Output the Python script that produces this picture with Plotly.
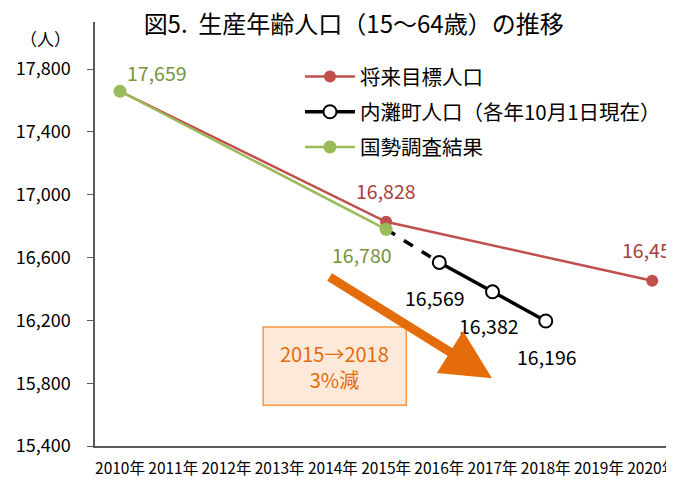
import plotly.graph_objects as go

years = [2010, 2011, 2012, 2013, 2014, 2015, 2016, 2017, 2018, 2019, 2020]
year_labels = [f"{y}年" for y in years]

target_years = [2010, 2015, 2020]
target_vals = [17659, 16828, 16452]

census_years = [2010, 2015]
census_vals = [17659, 16780]

town_years = [2016, 2017, 2018]
town_vals = [16569, 16382, 16196]

y_ticks = [15400, 15800, 16200, 16600, 17000, 17400, 17800]

RED = "#C0504D"
RED_TXT = "#A8403D"
GREEN = "#9BBB59"
GREEN_TXT = "#77933C"
BLACK = "#000000"
ORANGE = "#E46C0A"
FONT = "Noto Sans CJK JP"

fig = go.Figure()

# dashed connector 2015 census -> 2016 town
fig.add_trace(go.Scatter(x=[census_years[-1], town_years[0]], y=[census_vals[-1], town_vals[0]],
                         mode="lines", line=dict(color=BLACK, width=3.5, dash="dash"),
                         showlegend=False, hoverinfo="skip"))

fig.add_trace(go.Scatter(x=target_years, y=target_vals, mode="lines+markers", name="将来目標人口",
                         line=dict(color=RED, width=2.5), marker=dict(color=RED, size=12),
                         legendgroup="a"))
fig.add_trace(go.Scatter(x=town_years, y=town_vals, mode="lines+markers", name="内灘町人口（各年10月1日現在）",
                         line=dict(color=BLACK, width=3.5),
                         marker=dict(color="white", size=13, line=dict(color=BLACK, width=2)),
                         legendgroup="b"))
fig.add_trace(go.Scatter(x=census_years, y=census_vals, mode="lines+markers", name="国勢調査結果",
                         line=dict(color=GREEN, width=2.5), marker=dict(color=GREEN, size=13),
                         legendgroup="c"))

# value labels
def lab(x, y, color, xs, ys):
    fig.add_annotation(x=x, y=y, text=f"{y:,}", showarrow=False, xshift=xs, yshift=ys,
                       font=dict(color=color, size=19.5, family=FONT))

lab(target_years[0], target_vals[0], GREEN_TXT, 37, 19)
lab(target_years[1], target_vals[1], RED_TXT, 0, 31)
lab(target_years[2], target_vals[2], RED_TXT, 0, 31)
lab(census_years[1], census_vals[1], GREEN_TXT, -24, -25)
lab(town_years[0], town_vals[0], BLACK, -4, -35)
lab(town_years[1], town_vals[1], BLACK, -4, -34)
lab(town_years[2], town_vals[2], BLACK, 1, -35)

# big orange arrow
fig.add_annotation(x=2016.99, y=15832, ax=2013.91, ay=16482, axref="x", ayref="y", xref="x", yref="y",
                   showarrow=True, arrowhead=2, arrowsize=1.1, arrowwidth=9, arrowcolor=ORANGE, text="")

# box
fig.add_shape(type="rect", x0=2012.69, x1=2015.38, y0=15660, y1=16157, xref="x", yref="y",
              fillcolor="#FDE9D9", line=dict(color="#F79646", width=1.5), layer="above")
fig.add_annotation(x=2014.03, y=15908, text="2015→2018<br>3%減", showarrow=False,
                   font=dict(color=ORANGE, size=20, family=FONT), align="center")

fig.add_annotation(xref="paper", yref="paper", x=-0.086, y=0.962, text="（人）", showarrow=False,
                   xanchor="center", yanchor="middle", font=dict(size=17, family=FONT, color="#000"))

# the page body has an 8px default margin, so the figure is shrunk by 8px each way
fig.update_layout(
    width=666, height=472,
    margin=dict(l=87, r=0, t=14, b=34),
    paper_bgcolor="white", plot_bgcolor="white",
    title=dict(text="図5.  生産年齢人口（15～64歳）の推移", x=0.519, xanchor="center", y=0.965, yanchor="middle",
               font=dict(size=24, family=FONT, color="#000")),
    font=dict(family=FONT, color="#000"),
    legend=dict(x=0.354, y=0.918, xanchor="left", yanchor="top", font=dict(size=20.5, family=FONT),
                tracegroupgap=5.5, bgcolor="rgba(0,0,0,0)", itemwidth=50),
    showlegend=True,
)
fig.update_xaxes(range=[2009.53, 2020.41], tickmode="array", tickvals=years, ticktext=year_labels,
                 showline=True, linecolor="#595959", linewidth=1.5, showgrid=False, zeroline=False,
                 ticks="", automargin=False, ticklabelstandoff=8, ticklabeloverflow="allow",
                 tickfont=dict(size=15.5, family=FONT))
fig.update_yaxes(range=[15400, 18100], tickmode="array", tickvals=y_ticks, tickformat=",",
                 showline=True, linecolor="#595959", linewidth=1.5, showgrid=False, zeroline=False,
                 ticks="outside", ticklen=6, tickcolor="#595959", ticklabelstandoff=13, automargin=False,
                 tickfont=dict(size=18, family=FONT))

fig.write_html("out.html")
